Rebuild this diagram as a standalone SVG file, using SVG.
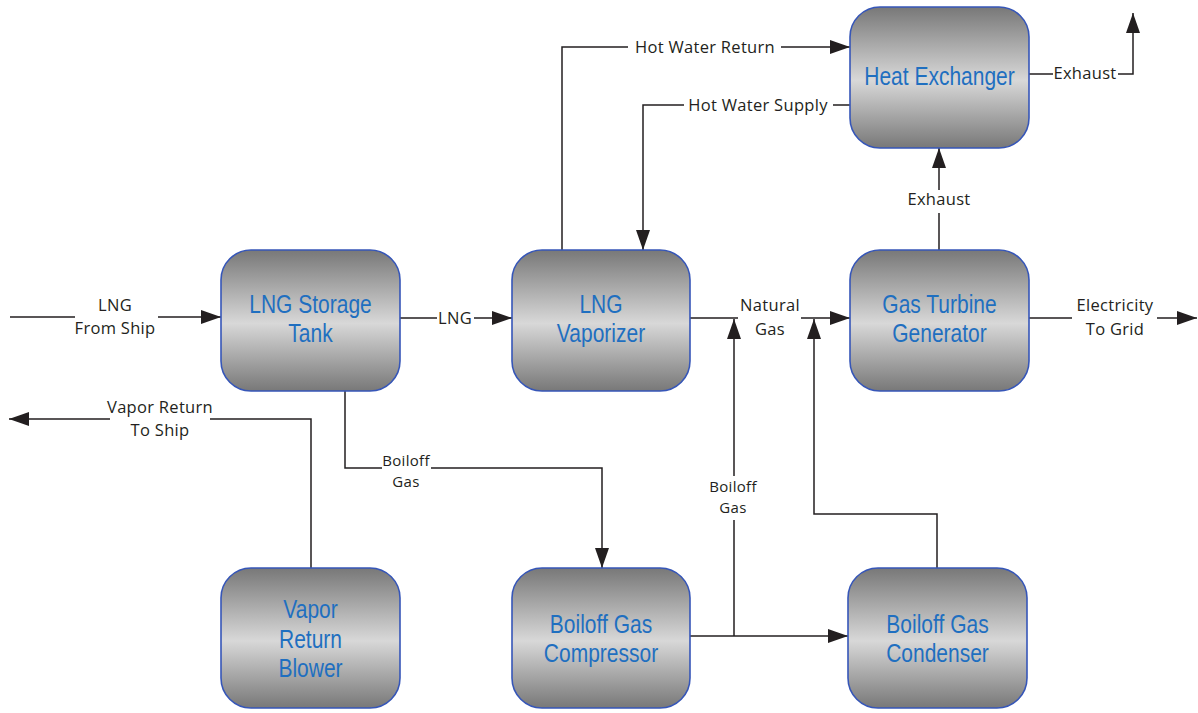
<svg xmlns="http://www.w3.org/2000/svg" width="1198" height="713" viewBox="0 0 1198 713">
  <style>
    .box { fill: url(#shade); stroke: #3656b8; stroke-width: 1.6; }
    .name { font-family: "Liberation Sans", Arial, sans-serif; font-size: 25px; fill: #1f6fc0; text-anchor: middle; }
    .flow { fill: none; stroke: #231f20; stroke-width: 1.5; marker-end: url(#arrow); }
    .lbl { font-family: "Open Sans", "DejaVu Sans", sans-serif; font-size: 16.5px; letter-spacing: 0.3px; fill: #231f20; text-anchor: middle; }
    .lbl.small { font-size: 15px; }
  </style>
  <defs>
    <linearGradient id="shade" x1="0" y1="0" x2="0" y2="1">
      <stop offset="0" stop-color="#787878"/>
      <stop offset="0.52" stop-color="#d8d8d8"/>
      <stop offset="1" stop-color="#787878"/>
    </linearGradient>
    <marker id="arrow" markerUnits="userSpaceOnUse" markerWidth="20" markerHeight="14" viewBox="0 0 20 14" refX="20" refY="7" orient="auto">
      <path d="M0,0 L20,7 L0,14 Z" fill="#231f20"/>
    </marker>
  </defs>
  <rect width="1198" height="713" fill="#ffffff"/>

  <!-- connectors -->
  <g id="connectors">
    <path class="flow" d="M10,317 H75 M158,317 H221"/>
    <path class="flow" d="M400,318 H437 M474,318 H512"/>
    <path class="flow" d="M690,318 H738 M801,318 H850"/>
    <path class="flow" d="M690,636 H848"/>
    <path class="flow" d="M734,636 V520 M734,476 V319"/>
    <path class="flow" d="M937,568 V514 H814 V319"/>
    <path class="flow" d="M345,391 V468 H382 M431,468 H602 V568"/>
    <path class="flow" d="M311,568 V419 H210 M110,419 H9"/>
    <path class="flow" d="M562,250 V47 H628 M781,47 H850"/>
    <path class="flow" d="M850,105 H833 M684,105 H643 V250"/>
    <path class="flow" d="M939,250 V213 M939,190 V148"/>
    <path class="flow" d="M1029,74 H1053 M1118,74 H1133 V13"/>
    <path class="flow" d="M1029,318 H1072 M1157,318 H1197"/>

    <text class="lbl" x="115" y="311">LNG</text>
    <text class="lbl" x="115" y="334">From Ship</text>
    <text class="lbl" x="455" y="324">LNG</text>
    <text class="lbl" x="770" y="311">Natural</text>
    <text class="lbl" x="770" y="335">Gas</text>
    <text class="lbl" x="1115" y="311">Electricity</text>
    <text class="lbl" x="1115" y="335">To Grid</text>
    <text class="lbl" x="160" y="413">Vapor Return</text>
    <text class="lbl" x="160" y="436">To Ship</text>
    <text class="lbl small" x="406" y="466">Boiloff</text>
    <text class="lbl small" x="406" y="487">Gas</text>
    <text class="lbl small" x="733" y="492">Boiloff</text>
    <text class="lbl small" x="733" y="513">Gas</text>
    <text class="lbl" x="705" y="53">Hot Water Return</text>
    <text class="lbl" x="758" y="111">Hot Water Supply</text>
    <text class="lbl" x="939" y="205">Exhaust</text>
    <text class="lbl" x="1085" y="79">Exhaust</text>
  </g>

  <!-- process units -->
  <g id="heat-exchanger">
    <rect class="box" x="850" y="7" width="179" height="141" rx="30"/>
    <text class="name" transform="translate(939.5,85) scale(0.84,1)">Heat Exchanger</text>
  </g>
  <g id="lng-storage-tank">
    <rect class="box" x="221" y="250" width="179" height="141" rx="30"/>
    <text class="name" transform="translate(310.5,313) scale(0.84,1)"><tspan x="0" y="0">LNG Storage</tspan><tspan x="0" y="29">Tank</tspan></text>
  </g>
  <g id="lng-vaporizer">
    <rect class="box" x="512" y="250" width="178" height="141" rx="30"/>
    <text class="name" transform="translate(601,313) scale(0.84,1)"><tspan x="0" y="0">LNG</tspan><tspan x="0" y="29">Vaporizer</tspan></text>
  </g>
  <g id="gas-turbine-generator">
    <rect class="box" x="850" y="250" width="179" height="141" rx="30"/>
    <text class="name" transform="translate(939.5,313) scale(0.84,1)"><tspan x="0" y="0">Gas Turbine</tspan><tspan x="0" y="29">Generator</tspan></text>
  </g>
  <g id="vapor-return-blower">
    <rect class="box" x="221" y="568" width="179" height="140" rx="30"/>
    <text class="name" transform="translate(310.5,618) scale(0.84,1)"><tspan x="0" y="0">Vapor</tspan><tspan x="0" y="30">Return</tspan><tspan x="0" y="59">Blower</tspan></text>
  </g>
  <g id="boiloff-gas-compressor">
    <rect class="box" x="512" y="568" width="178" height="140" rx="30"/>
    <text class="name" transform="translate(601,633) scale(0.84,1)"><tspan x="0" y="0">Boiloff Gas</tspan><tspan x="0" y="29">Compressor</tspan></text>
  </g>
  <g id="boiloff-gas-condenser">
    <rect class="box" x="848" y="568" width="179" height="140" rx="30"/>
    <text class="name" transform="translate(937.5,633) scale(0.84,1)"><tspan x="0" y="0">Boiloff Gas</tspan><tspan x="0" y="29">Condenser</tspan></text>
  </g>
</svg>
